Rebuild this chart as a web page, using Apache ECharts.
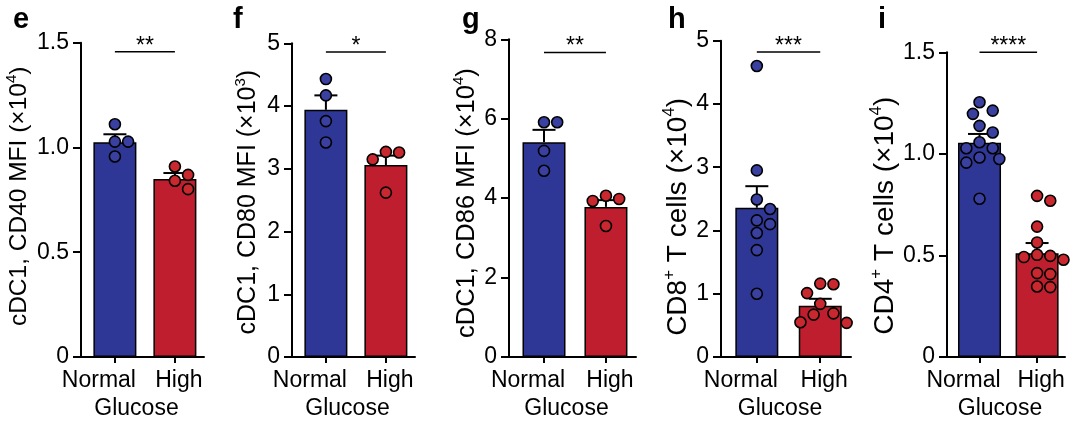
<!DOCTYPE html>
<html><head><meta charset="utf-8">
<script src="https://cdn.jsdelivr.net/npm/echarts@6/dist/echarts.min.js"></script>
<style>html,body{margin:0;padding:0;background:#fff}#c{width:1080px;height:427px}</style>
</head><body><div id="c"></div>
<script>
// ---------- data ----------
const categories = ['Normal', 'High'];
const xTitle = 'Glucose';
const panelLetters = ['e', 'f', 'g', 'h', 'i'];

const eNormal = [1.111, 1.028, 1.028, 0.957];
const eHigh = [0.909, 0.869, 0.841, 0.801];
const eMean = [1.025, 0.849];
const eSem = [0.038, 0.029];

const fNormal = [4.43, 4.17, 3.76, 3.42];
const fHigh = [3.27, 3.26, 3.15, 2.62];
const fMean = [3.94, 3.06];
const fSem = [0.23, 0.15];

const gNormal = [5.91, 5.91, 5.19, 4.69];
const gHigh = [4.06, 3.98, 3.93, 3.30];
const gMean = [5.41, 3.78];
const gSem = [0.31, 0.17];

const hNormal = [4.60, 2.95, 2.49, 2.34, 2.16, 2.10, 1.96, 1.69, 1.00];
const hHigh = [1.15, 1.16, 1.01, 0.84, 0.69, 0.67, 0.54, 0.55];
const hMean = [2.36, 0.81];
const hSem = [0.34, 0.11];

const iNormal = [1.254, 1.213, 1.197, 1.138, 1.105, 1.057, 1.028, 1.028, 0.975, 0.982, 0.957, 0.779];
const iHigh = [0.793, 0.769, 0.642, 0.564, 0.503, 0.479, 0.492, 0.498, 0.408, 0.413, 0.344, 0.347];
const iMean = [1.055, 0.511];
const iSem = [0.043, 0.05];

const yMaxes = [1.5, 5, 8, 5, 1.5];
const yIntervals = [0.5, 1, 2, 1, 0.5];
const yDecimals = [1, 0, 0, 0, 1];
const yTitles = [
  '{n|cDC1, CD40 MFI (×10}{s|4}{n|)}',
  '{n|cDC1, CD80 MFI (×10}{s|3}{n|)}',
  '{n|cDC1, CD86 MFI (×10}{s|4}{n|)}',
  '{n|CD8}{s|+}{n| T cells (×10}{s|4}{n|)}',
  '{n|CD4}{s|+}{n| T cells (×10}{s|4}{n|)}'
];
const sigLevels = [1.457, 4.86, 7.67, 4.82, 1.5];
const sigLabels = ['**', '*', '**', '***', '****'];

// ---------- layout / style ----------
const FONT = "'Liberation Sans', Arial, Helvetica, sans-serif";
const BAR_COLORS = ['#2E3796', '#BE1E2D'];
const DOT_COLORS = ['#3A409F', '#C8282E'];
// titleShift > 0 moves the rotated axis title down, < 0 moves it up
const layout = [
  {left: 81, width: 123, top: 42.7, nameGap: 49, titleSize: 24.5, titleShift: -7, letterX: 8},
  {left: 292, width: 123, top: 43.3, nameGap: 31, titleSize: 25, titleShift: 4, letterX: 228},
  {left: 509, width: 127, top: 39.3, nameGap: 29, titleSize: 25.5, titleShift: 10, letterX: 457},
  {left: 721, width: 130, top: 40.7, nameGap: 28, titleSize: 28, titleShift: 36, letterX: 663},
  {left: 947, width: 118, top: 52.3, nameGap: 44, titleSize: 28, titleShift: 22, letterX: 873}
];
const panels = [
  {groups: [eNormal, eHigh], mean: eMean, sem: eSem},
  {groups: [fNormal, fHigh], mean: fMean, sem: fSem},
  {groups: [gNormal, gHigh], mean: gMean, sem: gSem},
  {groups: [hNormal, hHigh], mean: hMean, sem: hSem},
  {groups: [iNormal, iHigh], mean: iMean, sem: iSem}
];
const DOT = 11;

const grid = [], xAxis = [], yAxis = [], series = [], title = [];
panels.forEach((p, k) => {
  const L = layout[k];
  const pad = L.titleShift >= 0 ? [0, L.titleShift, 0, 0] : [0, 0, 0, -L.titleShift];
  grid.push({left: L.left, width: L.width, top: L.top, bottom: 70, containLabel: false});
  title.push({text: panelLetters[k], left: L.letterX, top: 0,
    textStyle: {fontFamily: FONT, fontSize: 29, fontWeight: 'bold', color: '#000'}});
  xAxis.push({
    type: 'value', gridIndex: k, min: -0.565, max: 1.485,
    axisLine: {show: true, onZero: false, lineStyle: {color: '#000', width: 2}},
    axisTick: {show: true, customValues: [0, 1], length: 6, lineStyle: {color: '#000', width: 2}},
    axisLabel: {show: true, customValues: [0, 1], margin: 12, color: '#000',
      fontFamily: FONT, fontSize: 23,
      formatter: v => (v < 0.5 ? '{a|' : '{b|') + categories[Math.round(v)] + '}',
      rich: {a: {fontFamily: FONT, fontSize: 23, color: '#000', padding: [0, 32, 0, 0]},
             b: {fontFamily: FONT, fontSize: 23, color: '#000', padding: [0, 0, 0, 8]}}},
    splitLine: {show: false},
    name: xTitle, nameLocation: 'middle', nameGap: 33,
    nameTextStyle: {fontFamily: FONT, fontSize: 23, color: '#000', padding: [0, 12, 0, 0]}
  });
  yAxis.push({
    type: 'value', gridIndex: k, min: 0, max: yMaxes[k], interval: yIntervals[k],
    axisLine: {show: true, onZero: false, lineStyle: {color: '#000', width: 2}},
    axisTick: {show: true, length: 8, lineStyle: {color: '#000', width: 2}},
    axisLabel: {margin: 12, color: '#000', fontFamily: FONT, fontSize: 23,
      formatter: v => v === 0 ? '0' : v.toFixed(yDecimals[k])},
    splitLine: {show: false},
    name: yTitles[k], nameLocation: 'middle', nameGap: L.nameGap, nameRotate: 90,
    nameTextStyle: {fontFamily: FONT, fontSize: L.titleSize, color: '#000', padding: pad,
      rich: {n: {fontFamily: FONT, fontSize: L.titleSize, color: '#000', lineHeight: L.titleSize + 3, verticalAlign: 'bottom'},
             s: {fontFamily: FONT, fontSize: Math.round(L.titleSize * 0.6), color: '#000',
                 lineHeight: Math.round(L.titleSize * 0.6), verticalAlign: 'top'}}}
  });
  // bars
  series.push({
    type: 'bar', xAxisIndex: k, yAxisIndex: k, barWidth: 43, z: 2,
    data: p.mean.map((m, j) => ({value: [j, m],
      itemStyle: {color: BAR_COLORS[j], borderColor: '#000', borderWidth: 1.5}})),
    silent: true, animation: false
  });
  // error bars (mean + SEM, upward)
  series.push({
    type: 'custom', xAxisIndex: k, yAxisIndex: k, z: 3, silent: true, animation: false,
    data: p.mean.map((m, j) => [j, m, p.sem[j]]),
    renderItem: (params, api) => {
      const x = api.value(0), m = api.value(1), s = api.value(2);
      const p0 = api.coord([x, m]), p1 = api.coord([x, m + s]);
      const st = {stroke: '#000', lineWidth: 2};
      return {type: 'group', children: [
        {type: 'line', shape: {x1: p0[0], y1: p0[1], x2: p1[0], y2: p1[1]}, style: st},
        {type: 'line', shape: {x1: p1[0] - 11.5, y1: p1[1], x2: p1[0] + 11.5, y2: p1[1]}, style: st}
      ]};
    }
  });
  // dots
  p.groups.forEach((g, j) => {
    series.push({
      type: 'scatter', xAxisIndex: k, yAxisIndex: k, z: 4, silent: true, animation: false,
      symbol: 'circle', symbolSize: DOT,
      itemStyle: {color: DOT_COLORS[j], borderColor: '#000', borderWidth: 1.6, opacity: 1},
      data: g.map(v => ({value: [j, v]}))
    });
  });
  // significance bracket
  series.push({
    type: 'custom', xAxisIndex: k, yAxisIndex: k, z: 5, silent: true, animation: false,
    data: [[0, 1, sigLevels[k]]],
    renderItem: (params, api) => {
      const a = api.coord([api.value(0), api.value(2)]);
      const b = api.coord([api.value(1), api.value(2)]);
      return {type: 'group', children: [
        {type: 'line', shape: {x1: a[0], y1: a[1], x2: b[0], y2: b[1]}, style: {stroke: '#000', lineWidth: 1.5}},
        {type: 'text', style: {text: sigLabels[k], x: (a[0] + b[0]) / 2, y: a[1] + 6,
          align: 'center', verticalAlign: 'bottom', fontFamily: FONT, fontSize: 23, fill: '#000'}}
      ]};
    }
  });
});

const chart = echarts.init(document.getElementById('c'), null, {renderer: 'canvas'});
chart.setOption({animation: false, backgroundColor: '#fff', title, grid, xAxis, yAxis, series});

// beeswarm-style horizontal spreading of dots, computed in pixel space from the axes
function swarm(pys, d) {
  const order = pys.map((_, i) => i).sort((a, b) => pys[a] - pys[b]);
  const placed = [], off = new Array(pys.length).fill(0);
  const step = d * 0.55;
  for (const i of order) {
    for (let t = 0; t < 40; t++) {
      const dx = t === 0 ? 0 : (t % 2 ? 1 : -1) * Math.ceil(t / 2) * step;
      if (placed.every(q => Math.hypot(q.x - dx, q.y - pys[i]) >= d * 0.97)) {
        off[i] = dx; placed.push({x: dx, y: pys[i]}); break;
      }
    }
  }
  return off;
}
const upd = [];
panels.forEach((p, k) => {
  upd.push({}, {});
  p.groups.forEach((g, j) => {
    const pys = g.map(v => chart.convertToPixel({gridIndex: k}, [j, v])[1]);
    const off = swarm(pys, DOT + 1);
    upd.push({data: g.map((v, n) => ({value: [j, v], symbolOffset: [off[n], 0]}))});
  });
  upd.push({});
});
chart.setOption({series: upd});
</script></body></html>
